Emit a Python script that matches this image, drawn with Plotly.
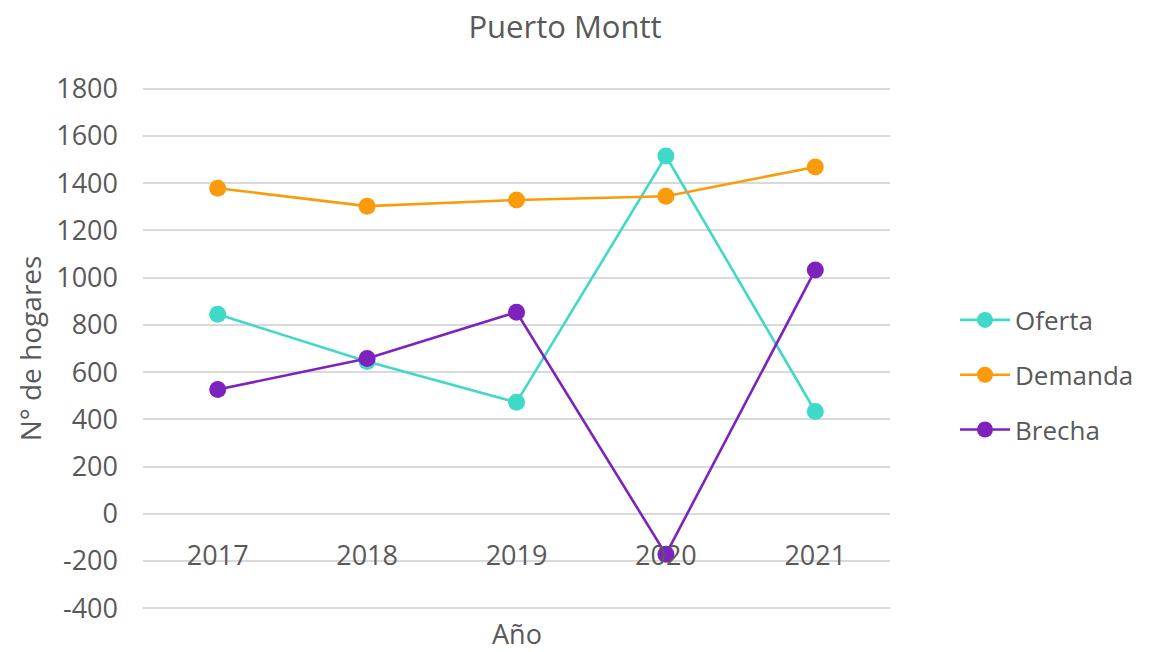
import plotly.graph_objects as go

years = ["2017", "2018", "2019", "2020", "2021"]
oferta = [845, 645, 472, 1515, 433]
demanda = [1379, 1303, 1329, 1345, 1469]
brecha = [526, 658, 854, -172, 1033]
ytick_vals = [-400, -200, 0, 200, 400, 600, 800, 1000, 1200, 1400, 1600, 1800]
ytick_text = [str(v) for v in ytick_vals]

colors = {"Oferta": "#3FD9C8", "Demanda": "#FB9B0B", "Brecha": "#7E22BE"}
series = {"Oferta": oferta, "Demanda": demanda, "Brecha": brecha}

FONT = "Open Sans"
TXT = "#595959"

W, H = 1149, 652
L, R, T, B = 143, 259, 86.2, 41.2
YMIN, YMAX = -412, 1812
plot_h = H - T - B

fig = go.Figure()
for name, vals in series.items():
    fig.add_trace(go.Scatter(
        x=years, y=vals, name=name, mode="lines+markers",
        line=dict(color=colors[name], width=2.6),
        marker=dict(color=colors[name], size=17),
        legendgroup=name,
    ))

fig.update_layout(
    width=W, height=H,
    paper_bgcolor="white", plot_bgcolor="white",
    margin=dict(l=L, r=R, t=T, b=B, autoexpand=False),
    font=dict(family=FONT, color=TXT, size=26),
    title=dict(text="Puerto Montt", x=565 / W, xref="container", xanchor="center",
               y=1 - 27 / H, yref="container", yanchor="middle",
               font=dict(size=31, color=TXT, family=FONT)),
    showlegend=True,
    legend=dict(x=1.087, xanchor="left", y=1 - (375 - T) / plot_h, yanchor="middle",
                font=dict(size=26, color=TXT), tracegroupgap=18,
                itemwidth=50),
    xaxis=dict(
        type="category", anchor="free", position=(0 - YMIN) / (YMAX - YMIN),
        showgrid=False, showline=False, zeroline=False,
        ticks="", ticklabelstandoff=23,
        tickfont=dict(size=27, color=TXT),
        range=[-0.5, 4.5],
    ),
    yaxis=dict(
        range=[YMIN, YMAX], tickmode="array", tickvals=ytick_vals, ticktext=ytick_text,
        showgrid=True, gridcolor="#D9D9D9", gridwidth=2,
        zeroline=False, showline=False,
        ticks="", ticklabelstandoff=24,
        tickfont=dict(size=27, color=TXT),
        title=dict(text="N° de hogares", font=dict(size=28, color=TXT), standoff=6),
    ),
    annotations=[dict(text="Año", xref="paper", yref="paper", x=0.5,
                      y=-(633 - (H - B)) / plot_h,
                      showarrow=False, yanchor="middle",
                      font=dict(size=27, color=TXT, family=FONT))],
)

fig.write_html("out.html", config={"displayModeBar": False},
               post_script="document.body.style.margin='0';")
